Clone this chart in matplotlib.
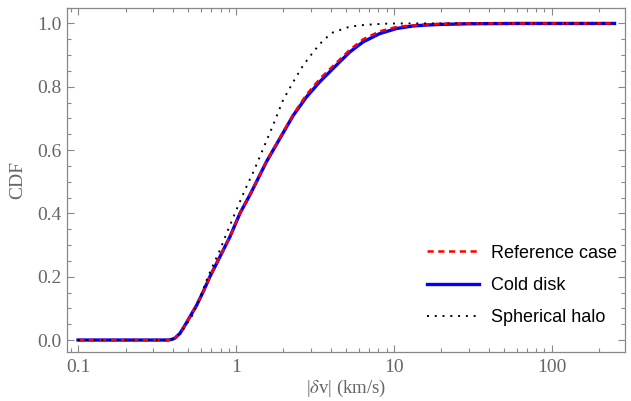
import matplotlib
matplotlib.use("Agg")
from matplotlib import pyplot as plt
from matplotlib.ticker import LogLocator, MultipleLocator, FixedLocator, NullFormatter

# values
cold_x = [0.1, 0.2, 0.3, 0.36, 0.373, 0.392, 0.411, 0.442, 0.476, 0.512, 0.564, 0.621, 0.684,
          0.792, 0.916, 1.06, 1.24, 1.56, 1.9, 2.31, 2.8, 3.4, 4.13, 4.55, 5.27, 6.4, 8.15,
          10.4, 13.2, 16.1, 20, 30, 60, 120, 250]
cold_y = [0, 0, 0, 0, 0, 0.002, 0.006, 0.021, 0.047, 0.074, 0.11, 0.153, 0.2,
          0.263, 0.326, 0.4, 0.463, 0.563, 0.637, 0.71, 0.768, 0.816, 0.858, 0.879, 0.91, 0.942, 0.968,
          0.984, 0.992, 0.995, 0.997, 0.999, 1, 1, 1]

ref_x = cold_x
ref_y = [0, 0, 0, 0, 0, 0.002, 0.006, 0.021, 0.047, 0.074, 0.11, 0.153, 0.2,
         0.263, 0.326, 0.4, 0.463, 0.564, 0.639, 0.713, 0.775, 0.825, 0.866, 0.886, 0.917, 0.95, 0.975,
         0.989, 0.994, 0.997, 0.999, 1, 1, 1, 1]

halo_x = [0.1, 0.2, 0.3, 0.36, 0.373, 0.392, 0.411, 0.453, 0.524, 0.592, 0.653, 0.701, 0.792,
          0.873, 0.986, 1.14, 1.29, 1.49, 1.72, 1.99, 2.31, 2.67, 3.09, 3.57, 4.13, 5.27, 6.4,
          8.5, 10.4, 20, 60, 250]
halo_y = [0, 0, 0, 0, 0, 0.002, 0.007, 0.026, 0.074, 0.132, 0.19, 0.226, 0.284,
          0.337, 0.4, 0.474, 0.531, 0.605, 0.679, 0.758, 0.816, 0.868, 0.91, 0.947, 0.972, 0.99, 0.995,
          0.999, 1, 1, 1, 1]

labels = ["Reference case", "Cold disk", "Spherical halo"]
xticks = [0.1, 1, 10, 100]
xtick_labels = ["0.1", "1", "10", "100"]
yticks = [0, 0.2, 0.4, 0.6, 0.8, 1.0]
ytick_labels = ["0.0", "0.2", "0.4", "0.6", "0.8", "1.0"]

plt.rcParams["mathtext.fontset"] = "stix"
gray = "#666666"

fig = plt.figure(figsize=(6.31, 4.01), dpi=100)
ax = fig.add_axes([0.106, 0.122, 0.884, 0.859])

ax.plot(ref_x, ref_y, color="red", lw=1.8, linestyle=(0, (2.5, 1.8)), label=labels[0], zorder=3)
ax.plot(cold_x, cold_y, color="blue", lw=2.4, label=labels[1], zorder=2)
ax.plot(halo_x, halo_y, color="black", lw=1.4, linestyle=(0, (1, 3)), label=labels[2], zorder=4)

ax.set_xscale("log")
ax.set_xlim(0.085, 290)
ax.set_ylim(-0.038, 1.05)

ax.xaxis.set_major_locator(FixedLocator(xticks))
ax.set_xticklabels(xtick_labels)
ax.xaxis.set_minor_locator(LogLocator(base=10, subs=range(2, 10)))
ax.xaxis.set_minor_formatter(NullFormatter())
ax.yaxis.set_minor_locator(MultipleLocator(0.05))
ax.set_yticks(yticks)
ax.set_yticklabels(ytick_labels)

for s in ax.spines.values():
    s.set_color("#888888")
    s.set_linewidth(0.9)
ax.tick_params(which="both", direction="in", top=True, right=True, color="#888888", width=0.8)
ax.tick_params(which="major", length=5)
ax.tick_params(which="minor", length=3)
ax.tick_params(axis="both", which="major", labelsize=14, labelcolor=gray)
ax.tick_params(axis="x", pad=5)
ax.tick_params(axis="y", pad=4)
for t in ax.get_xticklabels() + ax.get_yticklabels():
    t.set_fontfamily("Liberation Serif")

ax.set_ylabel("CDF", fontsize=14, color=gray, family="Liberation Serif", labelpad=8)
ax.set_xlabel(r"|$\delta$v| (km/s)", fontsize=13.5, color=gray, family="Liberation Serif", labelpad=1)

leg = ax.legend(loc="lower left", bbox_to_anchor=(0.645, 0.075), frameon=False,
                prop={"family": "Liberation Sans", "size": 13},
                handlelength=2.9, handletextpad=0.65, labelspacing=0.85,
                borderpad=0, borderaxespad=0)

fig.savefig("out.png", dpi=100)
